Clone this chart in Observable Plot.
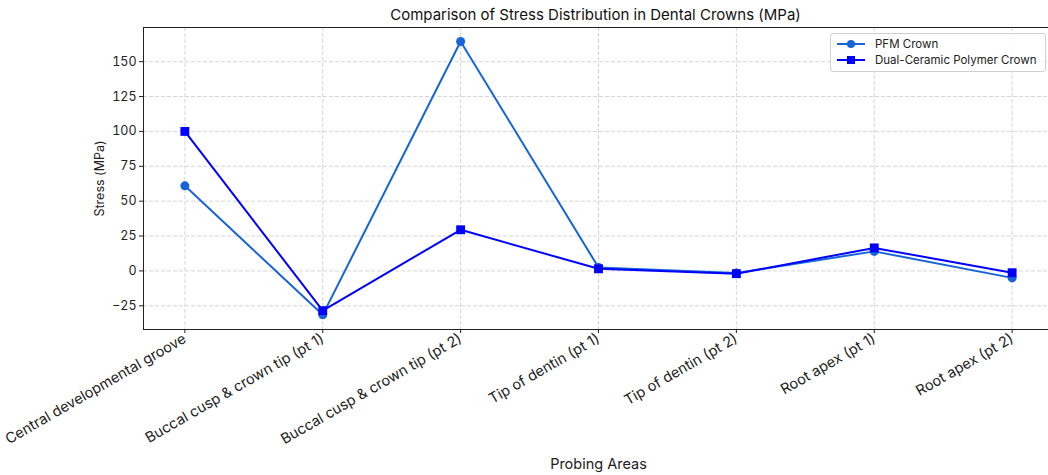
<!DOCTYPE html>
<html><head><meta charset="utf-8">
<script src="https://cdn.jsdelivr.net/npm/d3@7"></script>
<script src="https://cdn.jsdelivr.net/npm/@observablehq/plot@0.6"></script>
<style>
body{margin:0;background:#fff;font-family:Inter,"Noto Sans",sans-serif;overflow:hidden;}
#wrap{position:relative;width:1048px;height:475px;overflow:hidden;}
#title{height:27px;padding-left:143px;width:905px;text-align:center;font-size:15px;line-height:30px;color:#111;}
#chart svg{overflow:hidden;}
#legend{position:absolute;left:830px;top:33px;width:214px;height:37px;border:1px solid #d0d0d0;border-radius:3px;background:rgba(255,255,255,0.85);font-size:11.5px;color:#222;}
.row{position:absolute;left:6px;height:14px;display:flex;align-items:center;}
.row span{margin-left:10px;}
</style></head>
<body><div id="wrap"><div id="title">Comparison of Stress Distribution in Dental Crowns (MPa)</div>
<div id="chart"></div>
<div id="legend">
<div class="row" style="top:3px"><svg width="28" height="14"><line x1="0" y1="7" x2="28" y2="7" stroke="#1764d8" stroke-width="2"/><circle cx="14" cy="7" r="4" fill="#1764d8"/></svg><span>PFM Crown</span></div>
<div class="row" style="top:19px"><svg width="28" height="14"><line x1="0" y1="7" x2="28" y2="7" stroke="#0000ff" stroke-width="2"/><rect x="10" y="3" width="8" height="8" fill="#0000ff"/></svg><span>Dual-Ceramic Polymer Crown</span></div>
</div></div>
<script>
const categories = ["Central developmental groove","Buccal cusp & crown tip (pt 1)","Buccal cusp & crown tip (pt 2)","Tip of dentin (pt 1)","Tip of dentin (pt 2)","Root apex (pt 1)","Root apex (pt 2)"];
const pfmValues = [61, -31.5, 164.5, 2.5, -1.5, 14, -5];
const dualValues = [100, -28.5, 29.5, 1.5, -2, 16.5, -1.3];
const yTicks = [-25, 0, 25, 50, 75, 100, 125, 150];

const pfm = categories.map((c,i)=>({area:c, v:pfmValues[i]}));
const dual = categories.map((c,i)=>({area:c, v:dualValues[i]}));

const chart = Plot.plot({
  width:1048, height:448,
  marginLeft:143, marginRight:-5, marginTop:0, marginBottom:146,
  style:{fontFamily:"Inter, 'Noto Sans', sans-serif", fontSize:"12px", color:"#222", background:"transparent"},
  x:{type:"point", domain:categories, padding:0.3, round:false},
  y:{domain:[-42,174.5]},
  marks:[
    Plot.gridY(yTicks,{stroke:"#d6d6d6", strokeOpacity:1, strokeDasharray:"4,2"}),
    Plot.gridX(categories,{stroke:"#d6d6d6", strokeOpacity:1, strokeDasharray:"4,2"}),
    Plot.axisY(yTicks,{tickSize:4, tickPadding:3, fontSize:12.5, label:"Stress (MPa)", labelAnchor:"center", labelArrow:"none", labelOffset:48}),
    Plot.axisX(categories,{tickSize:4, tickRotate:-30, tickPadding:4, fontSize:14.5, label:"Probing Areas", labelAnchor:"center", labelArrow:"none", labelOffset:139}),
    Plot.frame({stroke:"#222"}),
    Plot.line(pfm,{x:"area", y:"v", stroke:"#1764d8", strokeWidth:2}),
    Plot.dot(pfm,{x:"area", y:"v", fill:"#1764d8", r:4.5, symbol:"circle"}),
    Plot.line(dual,{x:"area", y:"v", stroke:"#0000ff", strokeWidth:2}),
    Plot.dot(dual,{x:"area", y:"v", fill:"#0000ff", r:5, symbol:"square"})
  ]
});
document.getElementById("chart").appendChild(chart);
</script></body></html>
